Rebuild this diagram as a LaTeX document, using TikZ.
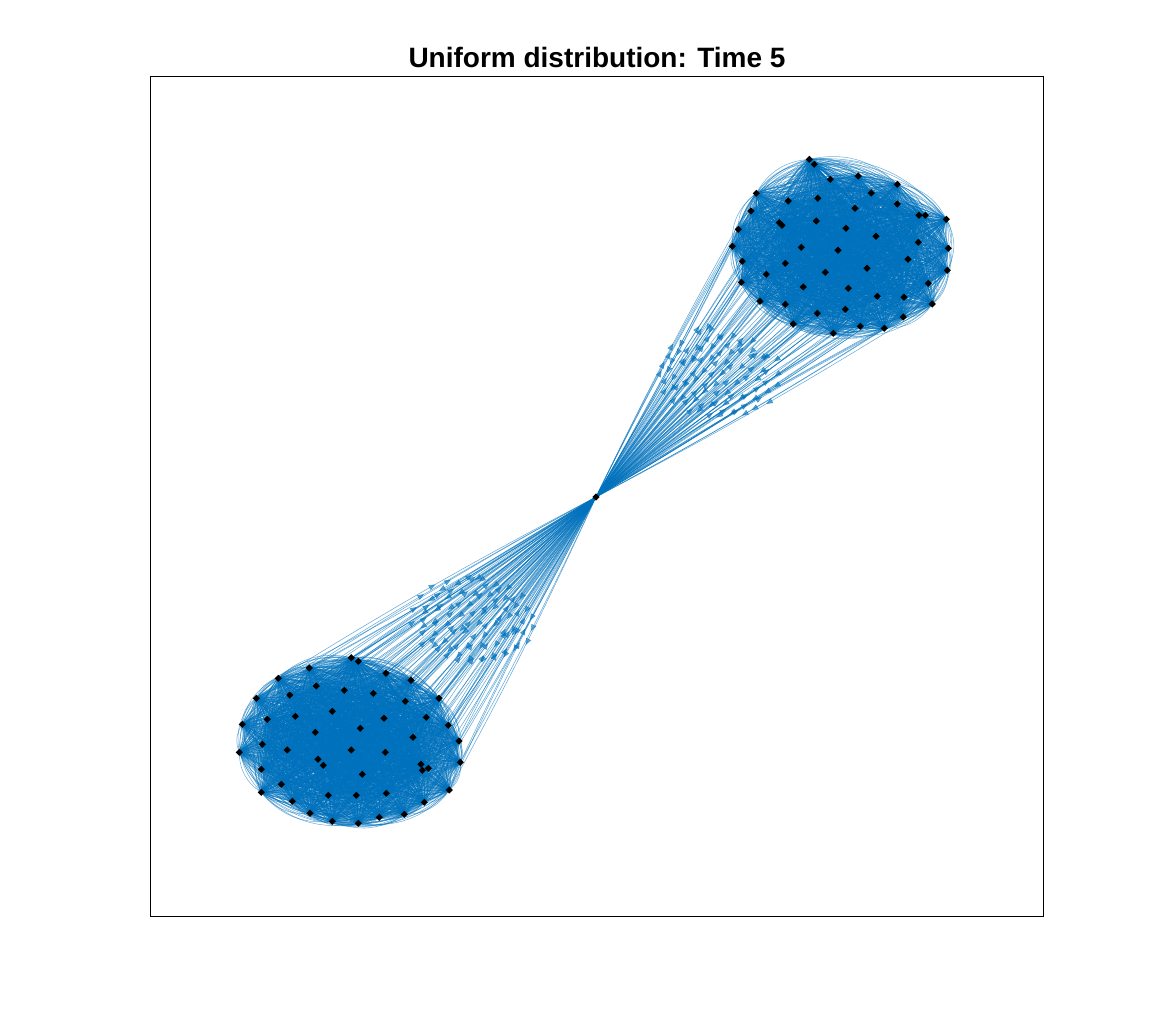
\documentclass[tikz,border=0pt]{standalone}
\usepackage{fontspec}
\setmainfont{Liberation Sans}
\usetikzlibrary{arrows.meta,decorations.markings}
\definecolor{mblue}{RGB}{0,114,189}
\tikzset{
  inner/.style={draw=mblue,line width=0.4pt,draw opacity=0.55},
  hubedge/.style={draw=mblue,line width=0.4pt,draw opacity=0.6,
    postaction={decorate},
    decoration={markings,mark=at position 0.5 with {\arrow[mblue,opacity=0.6]{Triangle[length=5pt,width=4pt]}}}},
  axesbox/.style={draw=black,line width=0.6pt},
  titletext/.style={font=\fontsize{21}{25}\selectfont\bfseries,text=black}
}
\begin{document}
\begin{tikzpicture}[x=0.75pt,y=-0.75pt]
\useasboundingbox[fill=white] (0,0) rectangle (1153,1031);
% node positions
\coordinate (h) at (596,497);
\foreach \n/\x/\y in {1/809.3/159.3,2/814.3/164.3,3/858.3/176,4/830.3/179.3,5/897.3/184.3,6/871.3/193,7/756.3/193.3,8/788.3/201,9/817.7/198.3,10/897.3/204,11/855/208.3,12/751/211,13/919/215.3,14/925.3/215.3,15/946.3/219.3,16/779.3/222.7,17/782/225.3,18/816.3/221,19/846/228.3,20/738.3/229.3,21/876/236.3,22/918.3/242.3,23/732.3/246.3,24/801.3/247.3,25/838/250.3,26/948.3/248.3,27/908/259.3,28/742.3/261.3,29/785.3/263.3,30/867/268.3,31/947.3/270.3,32/825.3/272.3,33/766.3/274.3,34/741.3/282.3,35/928.3/283.3,36/803.3/287,37/848.3/288.3,38/877.3/296.3,39/904/297.3,40/760/301.3,41/932.3/304,42/785.3/304.3,43/845.3/309.3,44/817.3/313.3,45/903.3/317,46/793.3/324,47/860.3/326.3,48/884.3/328.3,49/833.3/333.3}
  {\coordinate (t\n) at (\x,\y);}
\foreach \n/\x/\y in {1/351.3/657.7,2/358.3/661.3,3/309.3/668,4/386/673.3,5/278.3/678.3,6/411/680.3,7/316.3/686,8/344.3/690.3,9/373.3/693.3,10/289.7/695,11/256.3/698.3,12/439/698.3,13/405.3/701.3,14/332.3/711.3,15/295.3/716.3,16/426.3/717.3,17/267.3/719.3,18/384/718.3,19/242.3/724.3,20/448.3/725.3,21/360.3/728.3,22/315.3/732.3,23/413/737.3,24/459/741,25/262.3/744.3,26/239.3/752.3,27/287.3/750,28/351.3/750,29/385.3/752.3,30/318/759.3,31/460.3/762.3,32/323.3/765.3,33/421/764.3,34/422.3/770.3,35/428.3/768.3,36/261.3/769.3,37/362.3/774.3,38/281.3/784.3,39/261.3/792.3,40/328.3/795.3,41/356.3/795.3,42/386.3/793.3,43/449.3/790,44/292.3/801.3,45/424.3/802.3,46/310/813.3,47/404.3/814.3,48/379.3/817.3,49/332.3/821.3,50/358.3/823.3}
  {\coordinate (b\n) at (\x,\y);}
% axes
\draw[axesbox] (150,76) rectangle (1043,916);
\node[titletext] (title) at (597,57) {Uniform distribution: Time 5};
% cluster edges (both directions, curved)
\foreach \i in {1,...,49}{
  \foreach \j in {\i,...,49}{
    \ifnum\j>\i
      \draw[inner] (t\i) to[bend left=28] (t\j) to[bend left=28] (t\i);
    \fi
  }
}
\foreach \i in {1,...,50}{
  \foreach \j in {\i,...,50}{
    \ifnum\j>\i
      \draw[inner] (b\i) to[bend left=28] (b\j) to[bend left=28] (b\i);
    \fi
  }
}
% hub edges
\foreach \i in {1,...,49}{
  \draw[hubedge] (h) to[bend left=2] (t\i);
  \draw[hubedge] (t\i) to[bend left=2] (h);
}
\foreach \i in {1,...,50}{
  \draw[hubedge] (h) to[bend left=2] (b\i);
  \draw[hubedge] (b\i) to[bend left=2] (h);
}
% markers
\foreach \i in {1,...,49}{
  \fill[black] (t\i) ++(0,-3.6) -- ++(3.6,3.6) -- ++(-3.6,3.6) -- ++(-3.6,-3.6) -- cycle;
}
\foreach \i in {1,...,50}{
  \fill[black] (b\i) ++(0,-3.6) -- ++(3.6,3.6) -- ++(-3.6,3.6) -- ++(-3.6,-3.6) -- cycle;
}
\fill[black] (h) ++(0,-3.6) -- ++(3.6,3.6) -- ++(-3.6,3.6) -- ++(-3.6,-3.6) -- cycle;
\end{tikzpicture}
\end{document}
